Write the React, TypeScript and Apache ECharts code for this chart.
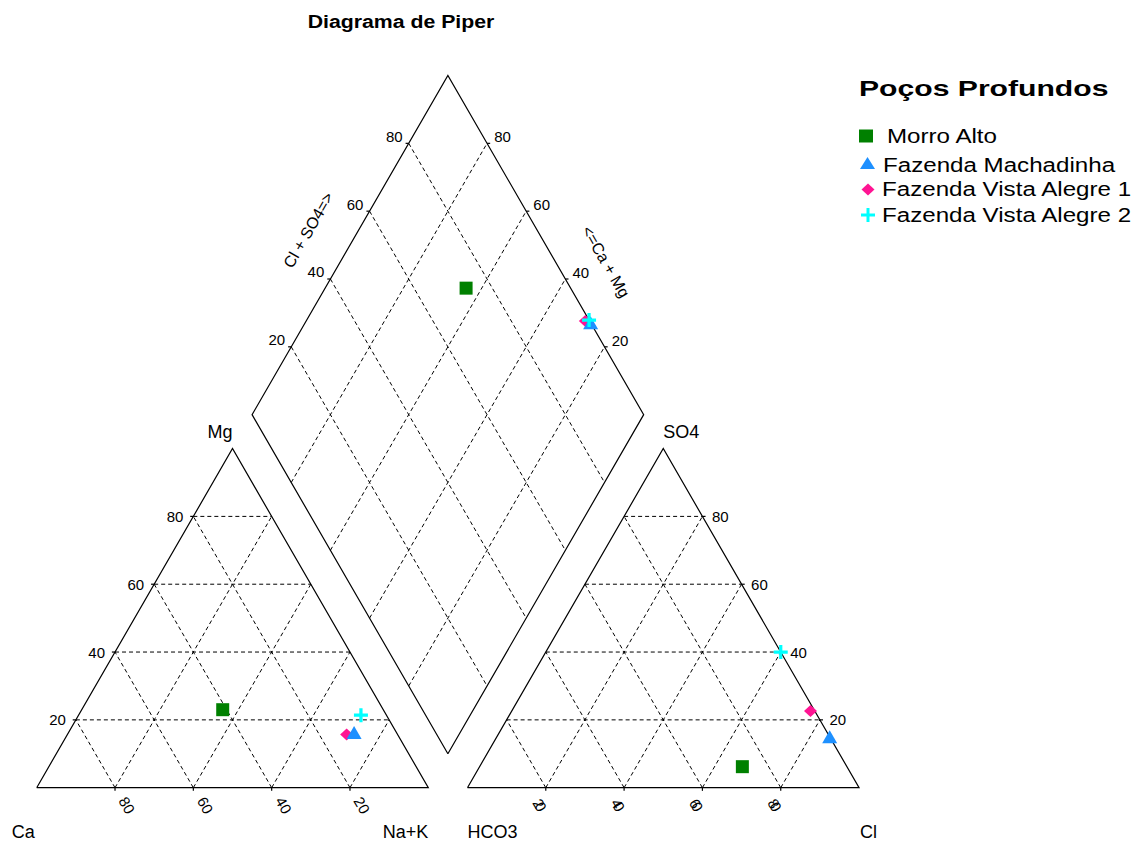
import React, { useEffect, useRef } from "react";
import * as echarts from "echarts";

// Samples and their ionic composition (% meq/L)
const samples = ["Morro Alto", "Fazenda Machadinha", "Fazenda Vista Alegre 1", "Fazenda Vista Alegre 2"];
const caPct = [41, 10.8, 13, 6.5];
const mgPct = [23, 16.3, 15.7, 21.4];
const naKPct = [36, 72.9, 71.3, 72.1];
const hco3Pct = [26.7, 0, 1.1, 0];
const so4Pct = [6.2, 15, 22.6, 40];
const clPct = [67.1, 85, 76.3, 60];

const tickValues = [20, 40, 60, 80];

const colors = ["#008000", "#1E90FF", "#FF1493", "#00FFFF"];
const symbols = ["rect", "triangle", "diamond", "path://M5,0H8V5H13V8H8V13H5V8H0V5H5Z"];
const symbolSizes: any[] = [13, [15, 13], [13, 12], 14];
const zOrder = [3, 4, 3, 5];

const FONT = '"Liberation Sans", Arial, Helvetica, sans-serif';

// Piper geometry, in percent units (triangle side = 100)
const H = Math.sqrt(3) / 2;
const GAP = 10;
const RX = 100 + GAP;
const BX = 100 + GAP / 2;
const BY = GAP * H;

// Pixel placement of the drawing
const W = 1142;
const HT = 842;
const PX = 3.916;
const X0 = 36.7;
const Y0 = 787.7;

type P = [number, number];

function cationXY(ca: number, mg: number, na: number): P {
  const t = ca + mg + na;
  const m = (mg / t) * 100;
  const n = (na / t) * 100;
  return [n + m / 2, m * H];
}
function anionXY(hco3: number, so4: number, cl: number): P {
  const t = hco3 + so4 + cl;
  const s = (so4 / t) * 100;
  const c = (cl / t) * 100;
  return [RX + c + s / 2, s * H];
}
function diamondXY(n: number, a: number): P {
  return [BX + 0.5 * (a + n - 100), BY + H * (a + 100 - n)];
}

// Outlines
const outlines: P[][] = [
  [cationXY(100, 0, 0), cationXY(0, 0, 100), cationXY(0, 100, 0), cationXY(100, 0, 0)],
  [anionXY(100, 0, 0), anionXY(0, 0, 100), anionXY(0, 100, 0), anionXY(100, 0, 0)],
  [diamondXY(100, 0), diamondXY(100, 100), diamondXY(0, 100), diamondXY(0, 0), diamondXY(100, 0)],
];

// Dashed grid
const gridSegs: P[][] = [];
tickValues.forEach((v) => {
  gridSegs.push([cationXY(100 - v, v, 0), cationXY(0, v, 100 - v)]);
  gridSegs.push([cationXY(v, 0, 100 - v), cationXY(v, 100 - v, 0)]);
  gridSegs.push([cationXY(100 - v, 0, v), cationXY(0, 100 - v, v)]);
  gridSegs.push([anionXY(100 - v, v, 0), anionXY(0, v, 100 - v)]);
  gridSegs.push([anionXY(v, 0, 100 - v), anionXY(v, 100 - v, 0)]);
  gridSegs.push([anionXY(100 - v, 0, v), anionXY(0, 100 - v, v)]);
  gridSegs.push([diamondXY(v, 0), diamondXY(v, 100)]);
  gridSegs.push([diamondXY(0, v), diamondXY(100, v)]);
});

// Small tick marks on the labelled sides
const tk = 0.8;
const tickSegs: P[][] = [];
tickValues.forEach((v) => {
  const b1 = cationXY(v, 0, 100 - v);
  tickSegs.push([b1, [b1[0], b1[1] - tk]]);
  const l1 = cationXY(100 - v, v, 0);
  tickSegs.push([l1, [l1[0] - tk, l1[1]]]);
  const b2 = anionXY(100 - v, 0, v);
  tickSegs.push([b2, [b2[0], b2[1] - tk]]);
  const r2 = anionXY(0, v, 100 - v);
  tickSegs.push([r2, [r2[0] + tk, r2[1]]]);
  const dl = diamondXY(0, v);
  tickSegs.push([dl, [dl[0] - tk, dl[1]]]);
  const dr = diamondXY(100 - v, 100);
  tickSegs.push([dr, [dr[0] + tk, dr[1]]]);
});

// Text labels anchored on the diagram
type Lbl = {
  at: P;
  text: string;
  dx: number;
  dy: number;
  rot?: number;
  size: number;
  align: string;
};
const TS = 15;
const labels: Lbl[] = [];
tickValues.forEach((v) => {
  const s = String(v);
  labels.push({ at: cationXY(100 - v, v, 0), text: s, dx: -10, dy: 0, size: TS, align: "right" });
  labels.push({ at: cationXY(v, 0, 100 - v), text: s, dx: 12, dy: 17.5, rot: -Math.PI / 3, size: TS, align: "center" });
  labels.push({ at: anionXY(0, v, 100 - v), text: s, dx: 9.5, dy: 0, size: TS, align: "left" });
  // the anion base labels are printed with their digits stacked on each other
  labels.push({ at: anionXY(100 - v, 0, v), text: s[0], dx: -7, dy: 16, rot: -Math.PI / 3, size: TS, align: "center" });
  labels.push({ at: anionXY(100 - v, 0, v), text: s[1], dx: -5, dy: 19, rot: -Math.PI / 3, size: TS, align: "center" });
  labels.push({ at: diamondXY(0, v), text: s, dx: -14.5, dy: -7, size: TS, align: "center" });
  labels.push({ at: diamondXY(100 - v, 100), text: s, dx: 15.5, dy: -6.7, size: TS, align: "center" });
});
labels.push({ at: cationXY(100, 0, 0), text: "Ca", dx: -25, dy: 44, size: 18, align: "left" });
labels.push({ at: cationXY(0, 0, 100), text: "Na+K", dx: 0, dy: 44, size: 18, align: "right" });
labels.push({ at: cationXY(0, 100, 0), text: "Mg", dx: 0, dy: -16.5, size: 18, align: "right" });
labels.push({ at: anionXY(100, 0, 0), text: "HCO3", dx: 0, dy: 44, size: 18, align: "left" });
labels.push({ at: anionXY(0, 0, 100), text: "Cl", dx: 1, dy: 44, size: 18, align: "left" });
labels.push({ at: anionXY(0, 100, 0), text: "SO4", dx: 0, dy: -17, size: 18, align: "left" });
labels.push({ at: diamondXY(0, 50), text: "Cl + SO4=>", dx: -41.5, dy: -15, rot: Math.PI / 3, size: 16, align: "center" });
labels.push({ at: diamondXY(60, 100), text: "<=Ca + Mg", dx: 40.5, dy: -17.3, rot: -Math.PI / 3, size: 16, align: "center" });

function samplePoints(i: number): P[] {
  return [
    cationXY(caPct[i], mgPct[i], naKPct[i]),
    anionXY(hco3Pct[i], so4Pct[i], clPct[i]),
    diamondXY(naKPct[i], clPct[i] + so4Pct[i]),
  ];
}

// Legend block
const legendTextX = [887, 883, 882, 882];
const legendY = [136, 165, 189.5, 215];

function legendMarker(i: number): any {
  const y = legendY[i];
  const fill = colors[i];
  if (i === 0) return { type: "rect", shape: { x: 859, y: y - 6.5, width: 14, height: 13 }, style: { fill } };
  if (i === 1)
    return { type: "polygon", shape: { points: [[860, y + 4], [875, y + 4], [867.5, y - 8]] }, style: { fill } };
  if (i === 2)
    return { type: "polygon", shape: { points: [[868, y - 6], [874.5, y], [868, y + 6], [861.5, y]] }, style: { fill } };
  return {
    type: "group",
    children: [
      { type: "rect", shape: { x: 861, y: y - 1.5, width: 14, height: 3 }, style: { fill } },
      { type: "rect", shape: { x: 866.5, y: y - 7, width: 3, height: 14 }, style: { fill } },
    ],
  };
}

export default function App() {
  const ref = useRef<HTMLDivElement>(null);
  useEffect(() => {
    if (!ref.current) return;
    document.body.style.margin = "0";
    const chart = echarts.init(ref.current, undefined, { renderer: "svg" });
    const graphic: any[] = [
      {
        type: "text",
        x: 401,
        y: 21,
        scaleX: 1.12,
        style: { text: "Diagrama de Piper", fontFamily: FONT, fontSize: 19, fontWeight: "bold", fill: "#000", align: "center", verticalAlign: "middle" },
      },
      {
        type: "text",
        x: 859,
        y: 88,
        scaleX: 1.37,
        style: { text: "Poços Profundos", fontFamily: FONT, fontSize: 22, fontWeight: "bold", fill: "#000", align: "left", verticalAlign: "middle" },
      },
    ];
    samples.forEach((name, i) => {
      graphic.push(legendMarker(i));
      graphic.push({
        type: "text",
        x: legendTextX[i],
        y: legendY[i],
        scaleX: 1.15,
        style: { text: name, fontFamily: FONT, fontSize: 21, fill: "#000", align: "left", verticalAlign: "middle" },
      });
    });

    const option: any = {
      animation: false,
      backgroundColor: "#fff",
      grid: { left: 0, top: 0, width: W, height: HT, containLabel: false },
      xAxis: { type: "value", min: -X0 / PX, max: (W - X0) / PX, show: false },
      yAxis: { type: "value", min: -(HT - Y0) / PX, max: Y0 / PX, show: false },
      legend: { show: false },
      tooltip: { show: false },
      graphic,
      series: [
        {
          type: "lines",
          coordinateSystem: "cartesian2d",
          polyline: true,
          silent: true,
          z: 1,
          lineStyle: { color: "#000", width: 1, type: [4, 3], opacity: 1 },
          data: gridSegs.map((c) => ({ coords: c })),
        },
        {
          type: "lines",
          coordinateSystem: "cartesian2d",
          polyline: true,
          silent: true,
          z: 2,
          lineStyle: { color: "#000", width: 1.2, type: "solid", opacity: 1 },
          data: outlines.map((c) => ({ coords: c })).concat(tickSegs.map((c) => ({ coords: c }))),
        },
        {
          type: "custom",
          coordinateSystem: "cartesian2d",
          silent: true,
          z: 2,
          data: labels.map((l) => [l.at[0], l.at[1]]),
          renderItem: (params: any, api: any) => {
            const l = labels[params.dataIndex];
            const p = api.coord([api.value(0), api.value(1)]);
            return {
              type: "text",
              x: p[0] + l.dx,
              y: p[1] + l.dy,
              rotation: l.rot || 0,
              style: {
                text: l.text,
                fontFamily: FONT,
                fontSize: l.size,
                fill: "#000",
                align: l.align,
                verticalAlign: "middle",
              },
            };
          },
        },
        ...samples.map((name, i) => ({
          type: "scatter",
          name,
          symbol: symbols[i],
          symbolSize: symbolSizes[i],
          silent: true,
          z: zOrder[i],
          itemStyle: { color: colors[i], opacity: 1 },
          data: samplePoints(i),
        })),
      ],
    };
    chart.setOption(option);
    return () => chart.dispose();
  }, []);
  return <div ref={ref} style={{ width: W, height: HT, background: "#fff" }} />;
}
